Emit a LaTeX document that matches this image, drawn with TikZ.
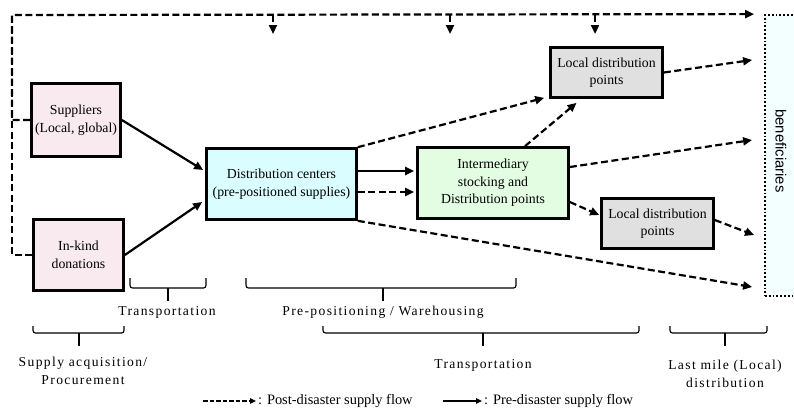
\documentclass[tikz,border=0pt]{standalone}
\usepackage{fontspec}
\setmainfont{Liberation Serif}
\newfontfamily\spacedfont[LetterSpace=10]{Liberation Serif}
\newfontfamily\benfont{Liberation Sans}
\usetikzlibrary{arrows.meta,calc}
\definecolor{pinkfill}{HTML}{F8EAEF}
\definecolor{cyanfill}{HTML}{DAFDFF}
\definecolor{greenfill}{HTML}{E3FDE3}
\definecolor{greyfill}{HTML}{E0E0E0}
\definecolor{benfill}{HTML}{F2FEFF}
\tikzset{
  box/.style={draw, line width=2.7pt, align=center, inner sep=0pt,
    font=\fontsize{13.8}{17.5}\selectfont},
  postflow/.style={line width=2.2pt, dash pattern=on 7pt off 3.5pt,
    -{Triangle[length=9pt,width=8pt]}},
  preflow/.style={line width=2.2pt, -{Triangle[length=9pt,width=8pt]}},
  legpost/.style={line width=1.3pt, dash pattern=on 4.5pt off 2pt,
    -{Triangle[length=6pt,width=5.5pt]}},
  legpre/.style={line width=1.3pt, -{Triangle[length=6pt,width=5.5pt]}},
  bracket/.style={line width=1.1pt, rounded corners=2.5pt},
  tick/.style={line width=1.1pt},
  blabel/.style={font=\spacedfont\fontsize{13.6}{18}\selectfont, align=center, inner sep=0pt},
  legtext/.style={font=\fontsize{14.4}{16}\selectfont, anchor=west, inner sep=0pt},
}
\begin{document}
\begin{tikzpicture}[x=1pt,y=-1pt]
\useasboundingbox (0,0) rectangle (794,408);

% beneficiaries
\node[draw, dotted, line width=1.8pt, fill=benfill, minimum width=50pt, minimum height=281pt, inner sep=0pt]
  (ben) at (790,155.5) {};
\node[font=\benfont\fontsize{14.8}{16}\selectfont, rotate=-90] (bentext) at (781,151) {beneficiaries};

% boxes
\node[box, fill=pinkfill, minimum width=89pt, minimum height=73pt] (sup) at (76,120) {Suppliers\\(Local, global)};
\node[box, fill=pinkfill, minimum width=90pt, minimum height=71pt] (ink) at (78.5,255) {In-kind\\donations};
\node[box, fill=cyanfill, minimum width=150pt, minimum height=71pt] (dc) at (281.5,184) {Distribution centers\\(pre-positioned supplies)};
\node[box, fill=greenfill, minimum width=151pt, minimum height=71pt] (inter) at (493,183) {Intermediary\\stocking and\\Distribution points};
\node[box, fill=greyfill, minimum width=112pt, minimum height=50pt] (ldp1) at (606.5,72.5) {Local distribution\\points};
\node[box, fill=greyfill, minimum width=112pt, minimum height=50pt] (ldp2) at (657.5,223.5) {Local distribution\\points};

% top post-disaster line
\coordinate (tl) at (12,15);
\coordinate (d1) at (273,15);
\coordinate (d2) at (450,15);
\coordinate (d3) at (595,15);
\coordinate (tr) at ($(ben.north west)+(-10,0)$);
\draw[postflow] (sup.west) -- (sup.west -| tl) -- (tl) -- (tr);
\draw[postflow, -] (ink.west) -- (ink.west -| tl) -- (tl);
\draw[postflow] (d1) -- ++(0,19);
\draw[postflow] (d2) -- ++(0,19);
\draw[postflow] (d3) -- ++(0,19);

% pre-disaster flows
\draw[preflow] (sup.east) -- ($(dc.west)+(-2,-14)$);
\draw[preflow] (ink.east) -- ($(dc.west)+(-3,18)$);
\draw[preflow] ($(dc.east)+(0,-13)$) -- ($(inter.west)+(-2,-12)$);

% post-disaster flows
\draw[postflow] ($(dc.east)+(0,8)$) -- ($(inter.west)+(-2,9)$);
\draw[postflow] (dc.north east) -- ($(ldp1.south west)+(-5,-1)$);
\draw[postflow] (dc.south east) -- ($(ben.west)+(-12,131.5)$);
\draw[postflow] ($(inter.north)+(32,0)$) -- ($(ldp1.south)+(-30,4)$);
\draw[postflow] ($(inter.east)+(0,-16)$) -- ($(ben.west)+(-12,-15.5)$);
\draw[postflow] ($(inter.east)+(0,19)$) -- ($(ldp2.west)+(-1,-8.5)$);
\draw[postflow] (ldp1.east) -- ($(ben.west)+(-12,-95.5)$);
\draw[postflow] ($(ldp2.east)+(0,-3.5)$) -- ($(ben.west)+(-10,79.5)$);

% brackets
\draw[bracket] (130,278) -- (130,288) -- (206,288) -- (206,278);
\draw[tick] (168,288) -- (168,301);
\node[blabel] (l1) at (167,312) {Transportation};

\draw[bracket] (246,278) -- (246,288) -- (516,288) -- (516,278);
\draw[tick] (383,288) -- (383,301);
\node[blabel] (l2) at (383,312) {Pre-positioning / Warehousing};

\draw[bracket] (33,326) -- (33,333) -- (124,333) -- (124,326);
\draw[tick] (79,333) -- (79,346);
\node[blabel] (l3) at (83,371) {Supply acquisition/\\Procurement};

\draw[bracket] (323,326) -- (323,333) -- (639,333) -- (639,326);
\draw[tick] (483,333) -- (483,346);
\node[blabel] (l4) at (483,365) {Transportation};

\draw[bracket] (670,326) -- (670,333) -- (767,333) -- (767,326);
\draw[tick] (725,333) -- (725,346);
\node[blabel] (l5) at (725,374) {Last mile (Local)\\distribution};

% legend
\coordinate (lp1) at (203,401);
\coordinate (lp2) at (256,401);
\coordinate (lq1) at (443,401);
\coordinate (lq2) at (482,401);
\draw[legpost] (lp1) -- (lp2);
\node[legtext] (lt1) at (258,401) {: Post-disaster supply flow};
\draw[legpre] (lq1) -- (lq2);
\node[legtext] (lt2) at (484,401) {: Pre-disaster supply flow};
\end{tikzpicture}
\end{document}
